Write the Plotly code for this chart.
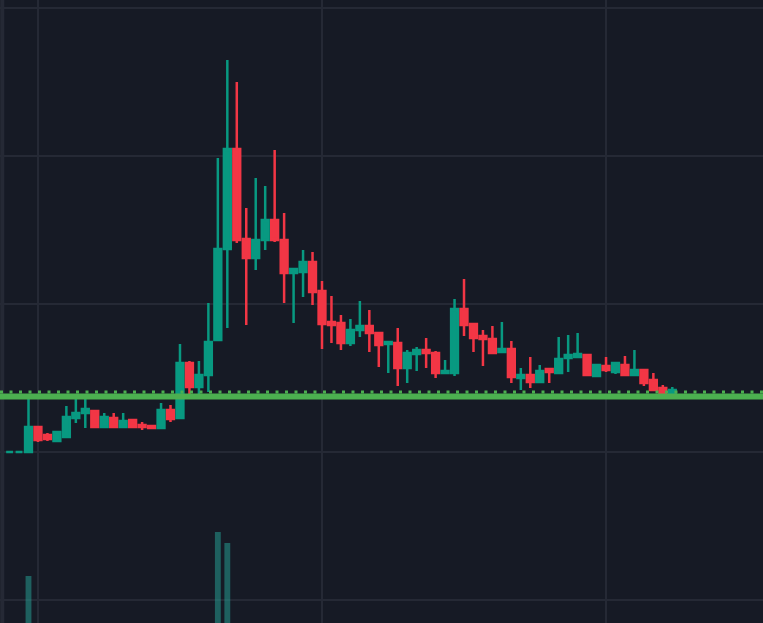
import plotly.graph_objects as go

# ---- data ----
idx = list(range(-2, 69))

opens = [1.000, 1.000,
         1.000, 1.169, 1.115, 1.074, 1.101, 1.230, 1.264, 1.277, 1.169, 1.230,
         1.169, 1.216, 1.182, 1.176, 1.162, 1.284, 1.230, 1.601, 1.439, 1.520,
         1.757, 2.372, 3.047, 2.439, 2.311, 2.432, 2.568, 2.432, 2.209, 2.216,
         2.284, 2.088, 1.878, 1.872, 1.736, 1.824, 1.851, 1.804, 1.730, 1.736,
         1.568, 1.662, 1.689, 1.669, 1.534, 1.534, 1.966, 1.865, 1.784, 1.764,
         1.676, 1.696, 1.500, 1.520, 1.473, 1.561, 1.534, 1.635, 1.642, 1.655,
         1.514, 1.581, 1.541, 1.588, 1.520, 1.554, 1.486, 1.432, 1.399]
highs = [1.000, 1.000,
         1.385, 1.169, 1.128, 1.142, 1.311, 1.365, 1.372, 1.284, 1.264, 1.264,
         1.264, 1.223, 1.203, 1.182, 1.331, 1.318, 1.730, 1.615, 1.615, 2.007,
         2.986, 3.649, 3.500, 2.649, 2.851, 2.797, 3.041, 2.615, 2.243, 2.365,
         2.351, 2.155, 2.054, 1.926, 1.899, 2.020, 1.959, 1.804, 1.743, 1.838,
         1.689, 1.709, 1.770, 1.682, 1.622, 2.034, 2.169, 1.872, 1.824, 1.851,
         1.878, 1.750, 1.568, 1.642, 1.588, 1.568, 1.777, 1.791, 1.804, 1.662,
         1.595, 1.642, 1.608, 1.649, 1.689, 1.561, 1.534, 1.453, 1.439]
lows = [1.000, 1.000,
        1.000, 1.068, 1.074, 1.068, 1.095, 1.196, 1.162, 1.162, 1.162, 1.162,
        1.162, 1.162, 1.149, 1.155, 1.155, 1.203, 1.223, 1.392, 1.365, 1.405,
        1.750, 1.838, 2.412, 1.858, 2.230, 2.365, 2.419, 2.007, 1.872, 2.047,
        1.993, 1.696, 1.736, 1.689, 1.716, 1.777, 1.676, 1.574, 1.534, 1.446,
        1.466, 1.547, 1.568, 1.500, 1.527, 1.514, 1.784, 1.676, 1.581, 1.662,
        1.669, 1.466, 1.419, 1.432, 1.466, 1.466, 1.527, 1.541, 1.635, 1.514,
        1.507, 1.541, 1.527, 1.514, 1.514, 1.446, 1.412, 1.372, 1.392]
closes = [1.000, 1.000,
          1.169, 1.081, 1.088, 1.135, 1.236, 1.264, 1.291, 1.169, 1.236, 1.169,
          1.209, 1.169, 1.169, 1.162, 1.284, 1.223, 1.601, 1.439, 1.520, 1.743,
          2.372, 3.047, 2.432, 2.311, 2.432, 2.568, 2.432, 2.209, 2.236, 2.284,
          2.081, 1.865, 1.858, 1.736, 1.824, 1.851, 1.804, 1.723, 1.743, 1.568,
          1.669, 1.689, 1.669, 1.534, 1.547, 1.966, 1.858, 1.770, 1.764, 1.669,
          1.696, 1.507, 1.520, 1.473, 1.547, 1.541, 1.628, 1.655, 1.662, 1.520,
          1.588, 1.554, 1.601, 1.520, 1.554, 1.466, 1.419, 1.385, 1.419]
volumes = [0, 0,
           87, 22, 12, 10, 18, 14, 15, 12, 9, 10,
           8, 9, 7, 6, 14, 10, 36, 22, 18, 38,
           131, 120, 35, 28, 24, 20, 26, 22, 14, 12,
           18, 20, 12, 10, 9, 12, 10, 11, 8, 16,
           12, 8, 9, 10, 6, 30, 22, 12, 10, 11,
           9, 14, 8, 9, 8, 6, 12, 10, 9, 10,
           7, 6, 6, 8, 7, 9, 10, 8, 5]

level_price = 1.376      # green horizontal line
level_marks = 1.405      # dotted marks above it

UP = "#089981"
DOWN = "#f23645"
BG = "#161a25"
GRID = "#252935"

fig = go.Figure()

fig.add_trace(go.Bar(
    x=idx, y=volumes, yaxis="y2", width=0.62,
    marker=dict(color="rgba(38,166,154,0.5)", line=dict(width=0)),
    showlegend=False, hoverinfo="skip"))

fig.add_trace(go.Candlestick(
    x=idx, open=opens, high=highs, low=lows, close=closes,
    increasing=dict(line=dict(color=UP, width=2.5), fillcolor=UP),
    decreasing=dict(line=dict(color=DOWN, width=2.5), fillcolor=DOWN),
    whiskerwidth=0, showlegend=False))

fig.add_shape(type="line", xref="paper", x0=0, x1=1, yref="y",
              y0=level_marks, y1=level_marks,
              line=dict(color="#4caf50", width=3, dash="3px,6.5px"))
fig.add_shape(type="line", xref="paper", x0=0, x1=1, yref="y",
              y0=level_price, y1=level_price,
              line=dict(color="#4caf50", width=6))
fig.add_shape(type="line", xref="paper", x0=0.003, x1=0.003, yref="paper",
              y0=0, y1=1, line=dict(color=GRID, width=4), layer="below")

fig.update_layout(
    width=763, height=623,
    margin=dict(l=0, r=0, t=0, b=0),
    paper_bgcolor=BG, plot_bgcolor=BG,
    boxgap=0.28, boxgroupgap=0,
    showlegend=False,
    xaxis=dict(range=[-3.01, 77.58], showticklabels=False, ticks="",
               showgrid=True, gridcolor=GRID, gridwidth=2,
               tick0=1, dtick=30, zeroline=False,
               rangeslider=dict(visible=False), showline=False),
    yaxis=dict(range=[-0.155, 4.054], showticklabels=False, ticks="",
               showgrid=True, gridcolor=GRID, gridwidth=2,
               tick0=0, dtick=1, zeroline=False, showline=False),
    yaxis2=dict(range=[40, 663], overlaying="y", showgrid=False,
                showticklabels=False, zeroline=False, ticks=""),
)

fig.write_html("out.html", config={"displayModeBar": False},
               post_script="document.body.style.margin='0';"
                           "document.body.style.overflow='hidden';"
                           "document.body.style.background='#161a25';")
